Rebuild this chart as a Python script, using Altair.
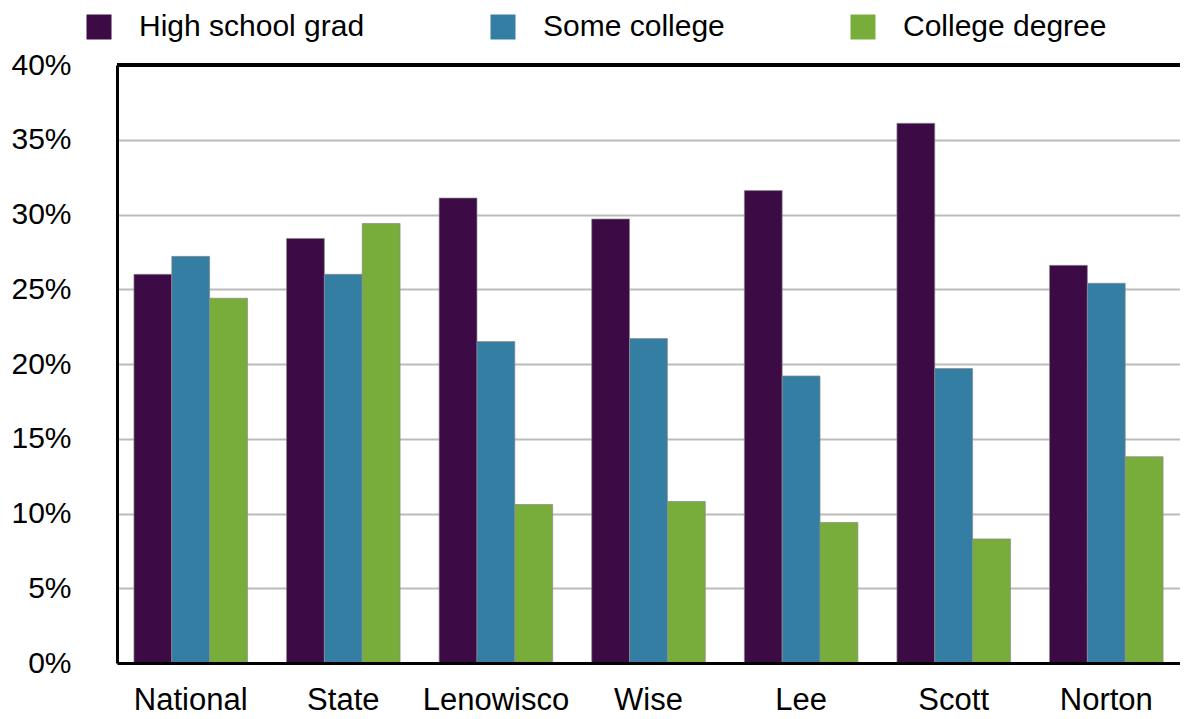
import altair as alt
import pandas as pd

regions = ["National", "State", "Lenowisco", "Wise", "Lee", "Scott", "Norton"]
series = ["High school grad", "Some college", "College degree"]
high_school = [26.0, 28.4, 31.1, 29.7, 31.6, 36.1, 26.6]
some_college = [27.2, 26.0, 21.5, 21.7, 19.2, 19.7, 25.4]
college_degree = [24.4, 29.4, 10.6, 10.8, 9.4, 8.3, 13.8]
colors = ["#3c0a45", "#347ea4", "#78ac3b"]
y_ticks = [0, 0.05, 0.10, 0.15, 0.20, 0.25, 0.30, 0.35, 0.40]

rows = []
for name, vals in zip(series, [high_school, some_college, college_degree]):
    for r, v in zip(regions, vals):
        rows.append({"region": r, "series": name, "value": v / 100.0})
df = pd.DataFrame(rows)

W, H = 1063, 598
FONT = "Liberation Sans"

bars = alt.Chart(df).mark_bar(
    stroke="#8a8a8a", strokeWidth=1, strokeOpacity=0.7
).encode(
    x=alt.X("region:N", sort=regions, title=None,
            scale=alt.Scale(paddingInner=0.256, paddingOuter=0.111),
            axis=alt.Axis(labelAngle=0, labelFontSize=31, labelFont=FONT,
                          labelColor="black", labelPadding=22, ticks=False,
                          domainColor="black", domainWidth=3, grid=False,
                          zindex=1)),
    xOffset=alt.XOffset("series:N", sort=series),
    y=alt.Y("value:Q", title=None,
            scale=alt.Scale(domain=[0, 0.4], nice=False),
            axis=alt.Axis(values=y_ticks, format=".0%", labelFontSize=30,
                          labelFont=FONT, labelColor="black", labelPadding=46,
                          ticks=False, domainColor="black", domainWidth=3,
                          gridColor="#bbbbbb", gridWidth=2, zindex=0)),
    color=alt.Color("series:N", sort=series,
                    scale=alt.Scale(domain=series, range=colors),
                    legend=alt.Legend(title=None, orient="none",
                                      direction="horizontal",
                                      legendX=-33, legendY=-53,
                                      symbolType="square", symbolSize=625,
                                      symbolStrokeWidth=0, symbolOpacity=1,
                                      labelFontSize=30, labelFont=FONT,
                                      labelColor="black", labelOffset=25,
                                      labelLimit=0,
                                      columnPadding=123, padding=0,
                                      gridAlign="each")),
)

top_border = alt.Chart(df).mark_rule(color="black", strokeWidth=3).encode(
    x=alt.value(0), x2=alt.value(W), y=alt.value(0)
)

chart = alt.layer(bars, top_border).properties(
    width=W, height=H,
    autosize=alt.AutoSizeParams(type="none"),
    padding={"left": 109, "top": 57, "right": 0, "bottom": 54},
).configure_view(stroke=None)

chart.save("out.html", embed_options={"renderer": "svg", "actions": False})
